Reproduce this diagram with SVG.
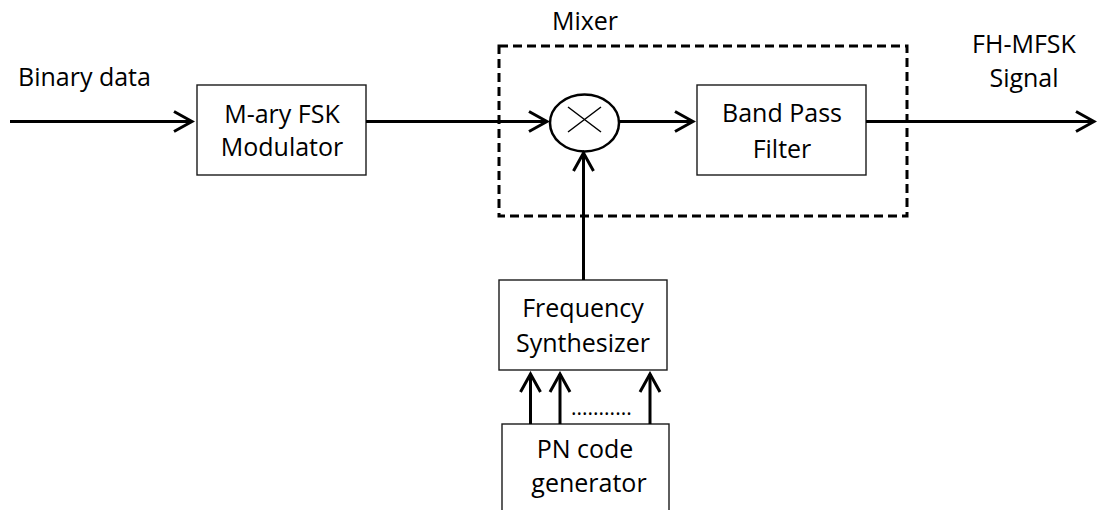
<svg xmlns="http://www.w3.org/2000/svg" width="1097" height="510" viewBox="0 0 1097 510">
  <style>
    .box { fill: #fff; stroke: #1a1a1a; stroke-width: 1.4; }
    .lbl { font-family: "Open Sans", "Liberation Sans", sans-serif; font-size: 25px; fill: #000; }
    .mid { text-anchor: middle; }
    .wire { fill: none; stroke: #000; stroke-width: 3; }
    .dash { fill: none; stroke: #000; stroke-width: 3; stroke-dasharray: 9 5; }
  </style>
  <defs>
    <marker id="arr" viewBox="-21 -12 24 24" markerWidth="24" markerHeight="24" refX="0" refY="0" orient="auto" markerUnits="userSpaceOnUse">
      <path d="M-18,-10 L0,0 L-18,10" fill="none" stroke="#000" stroke-width="3"/>
    </marker>
  </defs>
  <rect width="1097" height="510" fill="#fff"/>

  <g id="mixer">
    <rect x="499" y="46" width="408" height="170" class="dash"/>
    <text x="585" y="30" class="lbl mid">Mixer</text>
  </g>

  <g id="input-label">
    <text x="18" y="86" class="lbl">Binary data</text>
  </g>

  <g id="modulator">
    <rect x="197" y="85" width="169" height="90" class="box"/>
    <text x="282" y="123" class="lbl mid">M-ary FSK</text>
    <text x="282" y="156" class="lbl mid">Modulator</text>
  </g>

  <g id="multiplier">
    <ellipse cx="584.5" cy="123" rx="34.5" ry="28.5" fill="#fff" stroke="#000" stroke-width="2.5"/>
    <path d="M568,107 L601,132 M601,107 L568,132" fill="none" stroke="#000" stroke-width="1.5"/>
  </g>

  <g id="bpf">
    <rect x="697" y="85" width="169" height="90" class="box"/>
    <text x="782" y="122" class="lbl mid">Band Pass</text>
    <text x="782" y="158" class="lbl mid">Filter</text>
  </g>

  <g id="output-label">
    <text x="1024" y="53" class="lbl mid">FH-MFSK</text>
    <text x="1024" y="87" class="lbl mid">Signal</text>
  </g>

  <g id="synth">
    <rect x="499" y="280" width="168" height="90" class="box"/>
    <text x="583" y="317" class="lbl mid">Frequency</text>
    <text x="583" y="352" class="lbl mid">Synthesizer</text>
  </g>

  <g id="pn">
    <rect x="502" y="424" width="167" height="120" class="box"/>
    <text x="585" y="458" class="lbl mid">PN code</text>
    <text x="589" y="492" class="lbl mid">generator</text>
  </g>

  <g id="connectors">
    <line x1="10" y1="121.5" x2="192" y2="121.5" class="wire" marker-end="url(#arr)"/>
    <line x1="366" y1="121.5" x2="547" y2="121.5" class="wire" marker-end="url(#arr)"/>
    <line x1="619" y1="121.5" x2="693" y2="121.5" class="wire" marker-end="url(#arr)"/>
    <line x1="866" y1="121.5" x2="1094" y2="121.5" class="wire" marker-end="url(#arr)"/>
    <line x1="583.5" y1="280" x2="583.5" y2="153" class="wire" marker-end="url(#arr)"/>
    <line x1="530.5" y1="424" x2="530.5" y2="374" class="wire" marker-end="url(#arr)"/>
    <line x1="560" y1="424" x2="560" y2="374" class="wire" marker-end="url(#arr)"/>
    <line x1="650" y1="424" x2="650" y2="374" class="wire" marker-end="url(#arr)"/>
  </g>

  <g id="dots">
    <text x="571" y="415" class="lbl" style="font-size:21px">...........</text>
  </g>
</svg>
